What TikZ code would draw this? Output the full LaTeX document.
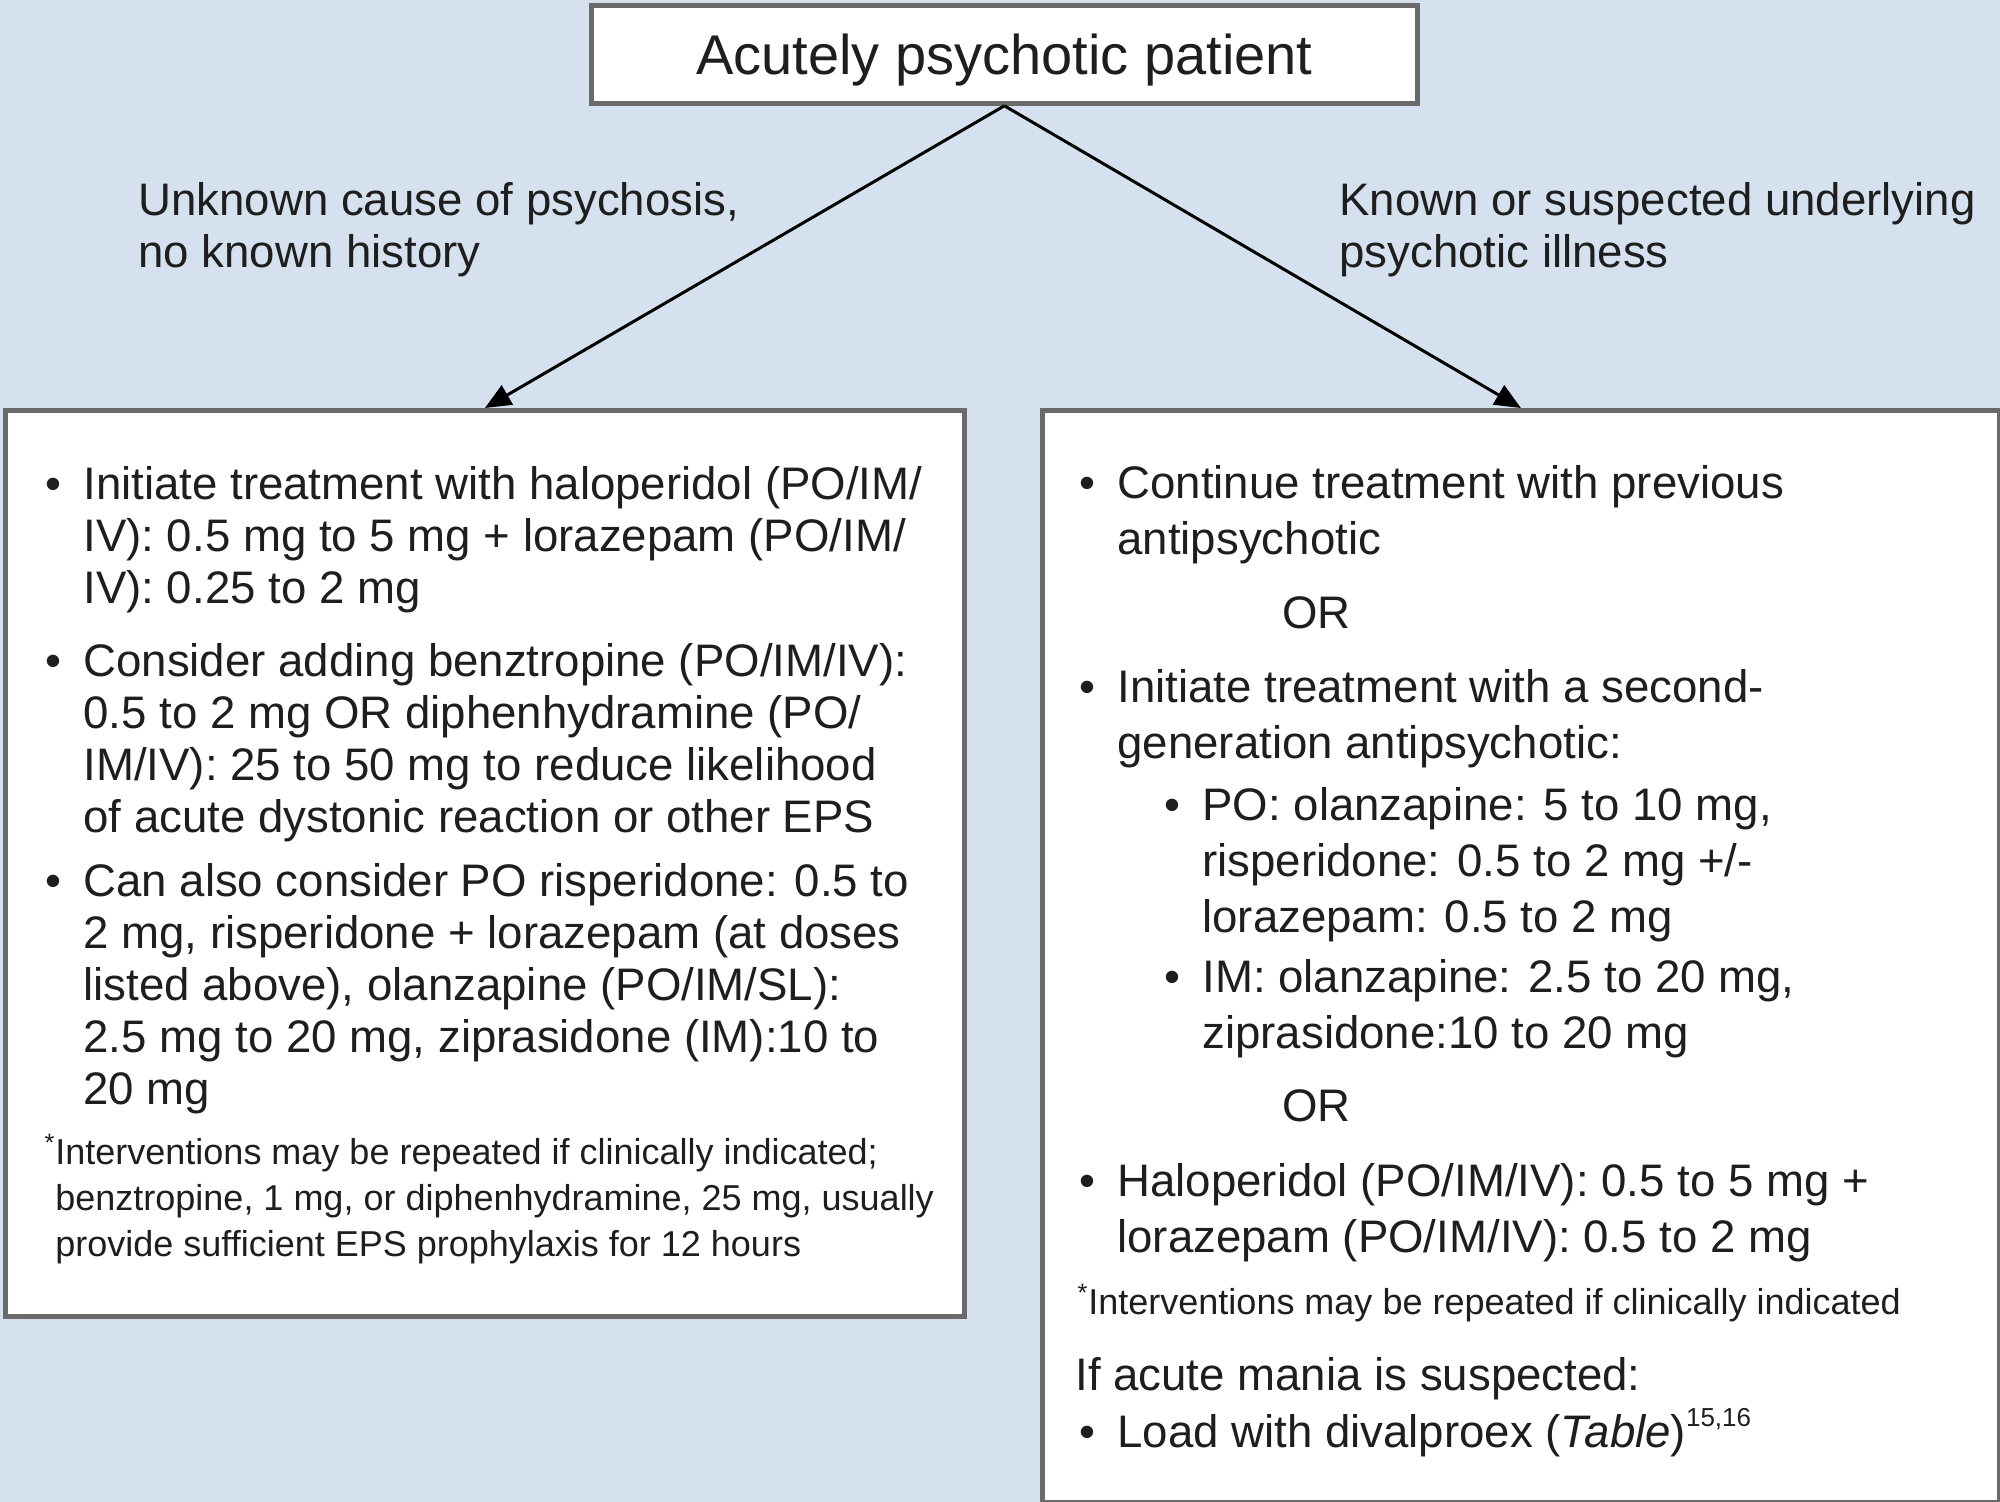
\documentclass[tikz,border=0pt]{standalone}
\usepackage{fontspec}
\setmainfont{Liberation Sans}
\usetikzlibrary{arrows.meta}
\definecolor{psyBack}{HTML}{D5E1EF}
\definecolor{psyFrame}{HTML}{6A6A6A}
\definecolor{psyInk}{HTML}{1E1E1E}
\newcommand{\bul}{\llap{\makebox[19pt][l]{\textbullet}}}
\newcommand{\fnmark}{\llap{\textsuperscript{*}}}
\newcommand{\refmark}[1]{\raisebox{0.45em}{\fontsize{13}{13}\selectfont #1}}
\tikzset{
  psy panel/.style={draw=psyFrame, fill=white, line width=2.4pt, inner sep=0pt, anchor=north west},
  psy arrow/.style={draw=black, line width=1.5pt, -{Triangle[length=13pt,width=11pt]}},
  % multi-line nodes sit on the baseline of their last line
  psy text/.style={anchor=base west, inner sep=0pt, align=left, text=psyInk, font=\fontsize{22.8}{26}\selectfont},
  psy text wide/.style={psy text, font=\fontsize{22.8}{28}\selectfont},
  psy note/.style={psy text, font=\fontsize{18}{23}\selectfont},
  psy title/.style={psy panel, text=psyInk, text depth=0pt, font=\fontsize{28}{34}\selectfont},
}

\begin{document}
\begin{tikzpicture}[x=0.5pt, y=-0.5pt]
  % Page in pixel units, pale blue ground
  \useasboundingbox (0,0) rectangle (2000,1502);
  \fill[psyBack] (0,0) rectangle (2000,1502);

  % Boxes
  \node (top) [psy title, minimum width=413pt, minimum height=49pt] at (589,3) {Acutely psychotic patient};
  \node (left) [psy panel, minimum width=479.5pt, minimum height=453pt] at (3,408) {};
  \node (right) [psy panel, minimum width=478.5pt, minimum height=546pt] at (1040,408) {};

  % Branches
  \draw[psy arrow] (top.south) -- (left.north);
  \draw[psy arrow] (top.south) -- (right.north);
  \node (unknown) [psy text] at (138,268) {Unknown cause of psychosis,\\no known history};
  \node (known) [psy text] at (1339,268) {Known or suspected underlying\\psychotic illness};

  % Left box: no known history
  \node (l1) [psy text] at (83,603) {\bul Initiate treatment with haloperidol (PO/IM/\\IV): 0.5 mg to 5 mg + lorazepam (PO/IM/\\IV): 0.25 to 2 mg};
  \node (l2) [psy text] at (83,832) {\bul Consider adding benztropine (PO/IM/IV):\\0.5 to 2 mg OR diphenhydramine (PO/\\IM/IV): 25 to 50 mg to reduce likelihood\\of acute dystonic reaction or other EPS};
  \node (l3) [psy text] at (83,1104) {\bul Can also consider PO risperidone: 0.5 to\\2 mg, risperidone + lorazepam (at doses\\listed above), olanzapine (PO/IM/SL):\\2.5 mg to 20 mg, ziprasidone (IM):10 to\\20 mg};
  \node (lnote) [psy note] at (55,1256) {\fnmark Interventions may be repeated if clinically indicated;\\benztropine, 1 mg, or diphenhydramine, 25 mg, usually\\provide sufficient EPS prophylaxis for 12 hours};

  % Right box: known psychotic illness
  \node (r1) [psy text wide] at (1117,554) {\bul Continue treatment with previous\\antipsychotic};
  \node (or1) [psy text] at (1282,628) {OR};
  \node (r2) [psy text wide] at (1117,758) {\bul Initiate treatment with a second-\\generation antipsychotic:};
  \node (r2a) [psy text wide] at (1202,932) {\bul PO: olanzapine: 5 to 10 mg,\\risperidone: 0.5 to 2 mg +/-\\lorazepam: 0.5 to 2 mg};
  \node (r2b) [psy text wide] at (1202,1048) {\bul IM: olanzapine: 2.5 to 20 mg,\\ziprasidone:10 to 20 mg};
  \node (or2) [psy text] at (1282,1121) {OR};
  \node (r3) [psy text wide] at (1117,1252) {\bul Haloperidol (PO/IM/IV): 0.5 to 5 mg +\\lorazepam (PO/IM/IV): 0.5 to 2 mg};
  \node (rnote) [psy note] at (1088,1314) {\fnmark Interventions may be repeated if clinically indicated};
  \node (mania) [psy text] at (1075,1390) {If acute mania is suspected:};
  \node (r4) [psy text] at (1117,1447) {\bul Load with divalproex (\textit{Table})\refmark{15,16}};
\end{tikzpicture}
\end{document}
